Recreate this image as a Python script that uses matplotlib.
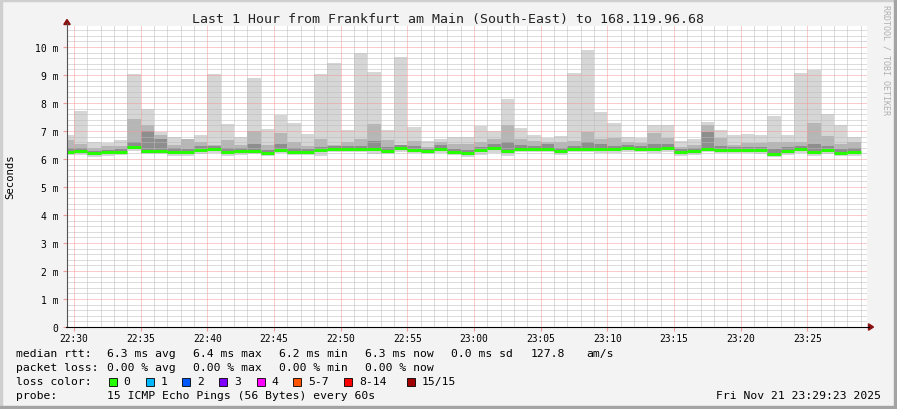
import numpy as np
import matplotlib
matplotlib.use("Agg")
import matplotlib.pyplot as plt
from matplotlib.patches import Rectangle, Polygon

plt.rcParams['font.family'] = 'DejaVu Sans Mono'

W, H = 897, 410

# bar start, minutes after 22:30 (one round every 60s)
minutes = np.arange(-1, 59)

rtt_median = [6.26, 6.27, 6.23, 6.25, 6.26, 6.43, 6.27, 6.27, 6.26, 6.26,
              6.33, 6.37, 6.26, 6.28, 6.28, 6.22, 6.32, 6.26, 6.26, 6.32,
              6.37, 6.37, 6.37, 6.35, 6.28, 6.40, 6.33, 6.28, 6.35, 6.26,
              6.23, 6.32, 6.40, 6.28, 6.36, 6.36, 6.36, 6.28, 6.36, 6.36,
              6.37, 6.35, 6.40, 6.36, 6.35, 6.40, 6.26, 6.28, 6.36, 6.33,
              6.33, 6.33, 6.33, 6.19, 6.30, 6.35, 6.26, 6.32, 6.22, 6.26]
rtt_max = [6.86, 7.73, 6.60, 6.58, 6.69, 9.04, 7.79, 6.98, 6.77, 6.72,
           6.87, 9.04, 7.26, 6.77, 8.89, 7.07, 7.58, 7.29, 6.89, 9.04,
           9.43, 7.04, 9.79, 9.12, 7.04, 9.64, 7.15, 6.63, 6.71, 6.79,
           6.79, 7.19, 7.01, 8.14, 7.12, 6.85, 6.76, 6.83, 9.07, 9.89,
           7.68, 7.27, 6.77, 6.75, 7.21, 7.21, 6.63, 6.71, 7.33, 7.05,
           6.85, 6.89, 6.85, 7.54, 6.85, 9.08, 9.19, 7.61, 7.21, 6.77]
rtt_upper = [6.67, 6.52, 6.40, 6.45, 6.45, 7.43, 7.21, 6.87, 6.50, 6.70,
             6.60, 6.50, 6.69, 6.50, 7.01, 6.50, 6.93, 6.62, 6.45, 6.71,
             6.50, 6.60, 6.71, 7.24, 6.69, 6.50, 6.64, 6.43, 6.62, 6.52,
             6.52, 6.62, 6.71, 7.21, 6.71, 6.64, 6.60, 6.60, 6.65, 6.98,
             6.71, 6.76, 6.60, 6.57, 6.93, 6.76, 6.43, 6.50, 7.20, 6.74,
             6.50, 6.57, 6.57, 6.60, 6.60, 6.60, 7.29, 6.83, 6.52, 6.60]
rtt_inner = [6.40, 6.38, 6.30, 6.33, 6.36, 6.60, 7.01, 6.72, 6.40, 6.36,
             6.45, 6.45, 6.38, 6.40, 6.55, 6.32, 6.55, 6.40, 6.34, 6.42,
             6.45, 6.45, 6.48, 6.65, 6.42, 6.50, 6.45, 6.36, 6.50, 6.34,
             6.32, 6.42, 6.55, 6.60, 6.50, 6.45, 6.55, 6.40, 6.45, 6.60,
             6.55, 6.48, 6.50, 6.45, 6.55, 6.55, 6.36, 6.40, 6.95, 6.45,
             6.42, 6.42, 6.42, 6.36, 6.42, 6.45, 6.55, 6.48, 6.36, 6.40]
rtt_low = [6.22, 6.23, 6.18, 6.21, 6.22, 6.39, 6.23, 6.23, 6.22, 6.22,
           6.29, 6.33, 6.22, 6.24, 6.24, 6.18, 6.28, 6.22, 6.22, 6.28,
           6.33, 6.33, 6.33, 6.31, 6.24, 6.36, 6.29, 6.24, 6.31, 6.22,
           6.19, 6.28, 6.36, 6.24, 6.32, 6.32, 6.32, 6.24, 6.32, 6.32,
           6.33, 6.31, 6.36, 6.32, 6.31, 6.36, 6.22, 6.24, 6.32, 6.29,
           6.29, 6.29, 6.29, 6.15, 6.26, 6.31, 6.22, 6.28, 6.18, 6.22]
rtt_min = [6.13, 6.15, 6.08, 6.10, 6.13, 6.30, 6.18, 6.17, 6.12, 6.12,
           6.18, 6.22, 6.12, 6.13, 6.18, 6.10, 6.20, 6.14, 6.15, 6.12,
           6.24, 6.25, 6.25, 6.18, 6.17, 6.25, 6.20, 6.18, 6.22, 6.14,
           6.08, 6.15, 6.20, 6.12, 6.24, 6.24, 6.24, 6.16, 6.24, 6.24,
           6.22, 6.20, 6.26, 6.24, 6.22, 6.26, 6.12, 6.14, 6.24, 6.22,
           6.20, 6.20, 6.18, 6.08, 6.16, 6.20, 6.12, 6.18, 6.10, 6.12]

tick_pos = [0, 5, 10, 15, 20, 25, 30, 35, 40, 45, 50, 55]
tick_labels = ["22:30", "22:35", "22:40", "22:45", "22:50", "22:55",
               "23:00", "23:05", "23:10", "23:15", "23:20", "23:25"]
y_ticks = [0, 1, 2, 3, 4, 5, 6, 7, 8, 9, 10]
y_labels = ["0"] + ["%d m" % v for v in y_ticks[1:]]

loss_labels = ["0", "1", "2", "3", "4", "5-7", "8-14", "15/15"]
loss_colors = ["#26ff00", "#00b8ff", "#0059ff", "#7e00ff", "#ff00ff",
               "#ff5500", "#ff0000", "#a00000"]
loss_box_x = [108.7, 146, 182.3, 219.3, 256.7, 293.3, 344.3, 407.3]

rtt_max, rtt_upper, rtt_inner = np.array(rtt_max), np.array(rtt_upper), np.array(rtt_inner)
rtt_low, rtt_min, rtt_median = np.array(rtt_low), np.array(rtt_min), np.array(rtt_median)

fig = plt.figure(figsize=(W / 100, H / 100), dpi=100, facecolor="#f3f3f3")
ax = fig.add_axes([67 / W, 82 / H, 800 / W, 301 / H])
ax.set_facecolor("white")
ax.set_xlim(-0.525, 59.475)
ax.set_ylim(0, 10.75)

# smoke
ax.bar(minutes, rtt_max - rtt_min, bottom=rtt_min, width=1, align="edge",
       color="#d6d6d6", linewidth=0, zorder=2)
ax.bar(minutes, rtt_upper - rtt_low, bottom=rtt_low, width=1, align="edge",
       color="#b6b6b6", linewidth=0, zorder=2)
ax.bar(minutes, rtt_inner - rtt_low, bottom=rtt_low, width=1, align="edge",
       color="#8e8e8e", linewidth=0, zorder=2)
ax.bar(minutes, rtt_median - rtt_low, bottom=rtt_low, width=1, align="edge",
       color="#5a5a5a", linewidth=0, zorder=2)

# grid drawn over the smoke, like rrdtool
grid_kw = dict(lw=0.72, ls=(0, (1, 1)), zorder=3)
for v in np.arange(0.2, 10.75, 0.2):
    if abs(v - round(v)) < 1e-6:
        continue
    ax.axhline(v, color="#bbbbbb", **grid_kw)
for m in range(0, 60):
    if m % 5:
        ax.axvline(m, color="#bbbbbb", **grid_kw)
for v in y_ticks[1:]:
    ax.axhline(v, color="#f29a9a", **grid_kw)
for m in tick_pos:
    ax.axvline(m, color="#f29a9a", **grid_kw)

# median line
ax.hlines(rtt_median, minutes, minutes + 1, color="#26ff00", lw=2.2, zorder=5)

for s in ax.spines.values():
    s.set_visible(False)

ax.set_xticks(tick_pos)
ax.set_xticklabels(tick_labels, fontsize=6.9)
ax.set_yticks(y_ticks)
ax.set_yticklabels(y_labels, fontsize=7)
ax.tick_params(axis="x", length=3, color="#f29a9a", pad=1.5)
ax.tick_params(axis="y", length=3, color="#f29a9a", pad=3)

# axis lines and arrows
fig.add_artist(plt.Line2D([67 / W, 67 / W], [(H - 328) / H, (H - 24) / H],
                          color="#555555", lw=0.8))
fig.add_artist(plt.Line2D([66 / W, 869 / W], [(H - 328) / H, (H - 328) / H],
                          color="black", lw=0.8))
fig.add_artist(Polygon([[67 / W, (H - 20.5) / H], [63.8 / W, (H - 25.5) / H],
                        [70.2 / W, (H - 25.5) / H]], closed=True,
                       color="#8b1010", transform=fig.transFigure))
fig.add_artist(Polygon([[873.5 / W, (H - 328) / H], [868.5 / W, (H - 324.8) / H],
                        [868.5 / W, (H - 331.2) / H]], closed=True,
                       color="#8b1010", transform=fig.transFigure))

def ftext(x, y, s, **kw):
    fig.text(x / W, 1 - y / H, s, va="center", **kw)

ftext(448, 19, "Last 1 Hour from Frankfurt am Main (South-East) to 168.119.96.68",
      ha="center", fontsize=9.5, color="#222222")
ftext(10, 177, "Seconds", rotation=90, ha="center", fontsize=7.7)
ftext(886, 60, "RRDTOOL / TOBI OETIKER", rotation=270, ha="center",
      fontsize=6, color="#b0b0b0")

fs = 8.2
ftext(16, 354, "median rtt:", fontsize=fs)
for x, s in zip([107, 193, 279, 365, 451, 531, 586],
                ["6.3 ms avg", "6.4 ms max", "6.2 ms min", "6.3 ms now",
                 "0.0 ms sd", "127.8", "am/s"]):
    ftext(x, 354, s, fontsize=fs)
ftext(16, 368, "packet loss:", fontsize=fs)
for x, s in zip([107, 193, 279, 365],
                ["0.00 % avg", "0.00 % max", "0.00 % min", "0.00 % now"]):
    ftext(x, 368, s, fontsize=fs)
ftext(16, 382, "loss color:", fontsize=fs)
for bx, lab, col in zip(loss_box_x, loss_labels, loss_colors):
    fig.add_artist(Rectangle((bx / W, 1 - 386.5 / H), 8 / W, 8 / H,
                             facecolor=col, edgecolor="black", lw=0.6,
                             transform=fig.transFigure))
    ftext(bx + 14.5, 382, lab, fontsize=fs)
ftext(16, 396, "probe:", fontsize=fs)
ftext(107, 396, "15 ICMP Echo Pings (56 Bytes) every 60s", fontsize=fs)
ftext(881, 396, "Fri Nov 21 23:29:23 2025", ha="right", fontsize=fs)

# frame
fig.add_artist(Rectangle((0, 0), 2 / W, 1, color="#cfcfcf", transform=fig.transFigure))
fig.add_artist(Rectangle((0, 1 - 2 / H), 1, 2 / H, color="#cfcfcf", transform=fig.transFigure))
fig.add_artist(Rectangle((0, 0), 1, 3 / H, color="#a3a3a3", transform=fig.transFigure))
fig.add_artist(Rectangle((1 - 3 / W, 0), 3 / W, 1, color="#a3a3a3", transform=fig.transFigure))

fig.savefig("out.png", dpi=100, facecolor=fig.get_facecolor())
